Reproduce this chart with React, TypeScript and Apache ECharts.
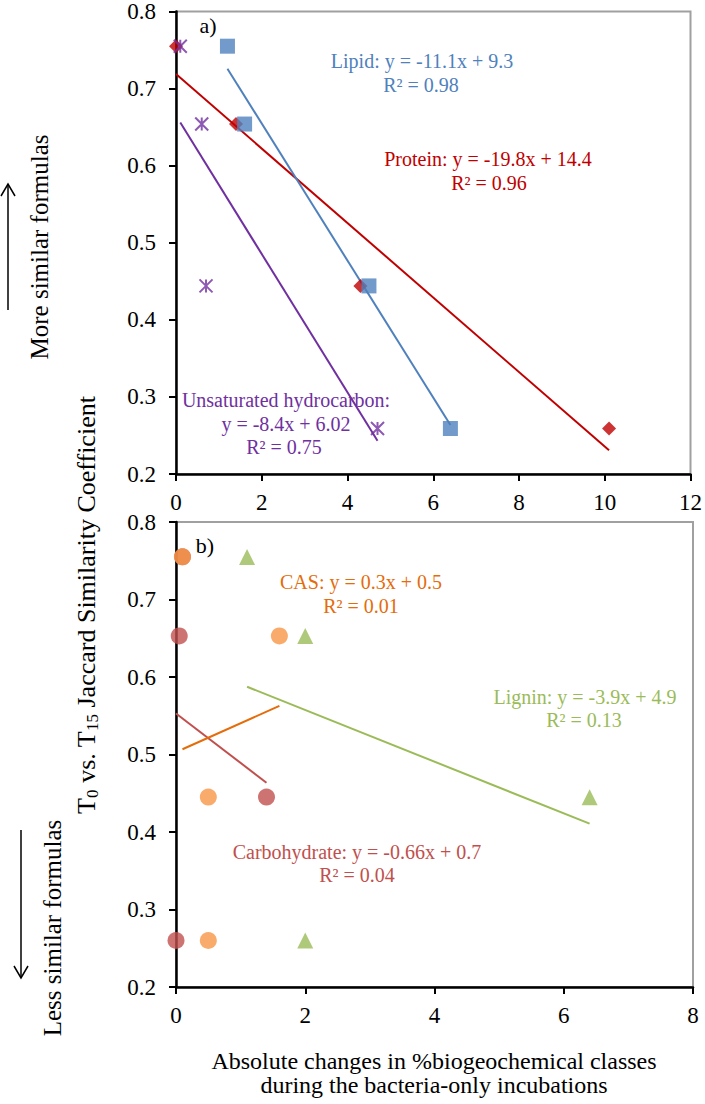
import React, { useEffect, useRef } from 'react';
import * as echarts from 'echarts';

// ---------- data ----------
const lipidX = [1.2, 1.6, 4.5, 6.4];
const lipidY = [0.755, 0.654, 0.444, 0.259];
const proteinX = [0, 1.4, 4.3, 10.1];
const proteinY = [0.755, 0.654, 0.444, 0.259];
const hydroX = [0.1, 0.6, 0.7, 4.7];
const hydroY = [0.755, 0.654, 0.444, 0.259];

const carbX = [0.1, 0.05, 1.4, 0];
const carbY = [0.755, 0.653, 0.445, 0.26];
const casX = [0.1, 1.6, 0.5, 0.5];
const casY = [0.755, 0.653, 0.445, 0.26];
const ligninX = [1.1, 2.0, 6.4, 2.0];
const ligninY = [0.755, 0.653, 0.445, 0.26];

const topXRange = [0, 12, 2];
const botXRange = [0, 8, 2];
const yRange = [0.2, 0.8, 0.1];

// ---------- helpers ----------
const FONT = 'Liberation Serif, Times New Roman, serif';

const pts = (xs: number[], ys: number[]) => xs.map((x, i) => [x, ys[i]]);

function trend(xs: number[], ys: number[]) {
  const n = xs.length;
  const mx = xs.reduce((a, b) => a + b, 0) / n;
  const my = ys.reduce((a, b) => a + b, 0) / n;
  let sxy = 0;
  let sxx = 0;
  for (let i = 0; i < n; i++) {
    sxy += (xs[i] - mx) * (ys[i] - my);
    sxx += (xs[i] - mx) * (xs[i] - mx);
  }
  const b = sxy / sxx;
  const a = my - b * mx;
  const lo = Math.min(...xs);
  const hi = Math.max(...xs);
  return [
    [lo, a + b * lo],
    [hi, a + b * hi],
  ];
}

const xAxisBase = (gridIndex: number, r: number[]) => ({
  type: 'value',
  gridIndex,
  min: r[0],
  max: r[1],
  interval: r[2],
  axisLine: { show: true, onZero: false, lineStyle: { color: '#000', width: 2.5 } },
  axisTick: { show: true, inside: false, length: 7, lineStyle: { color: '#000', width: 2 } },
  axisLabel: { fontSize: 23, fontFamily: FONT, color: '#000', margin: 17 },
  splitLine: { show: false },
});

const yAxisBase = (gridIndex: number) => ({
  type: 'value',
  gridIndex,
  min: yRange[0],
  max: yRange[1],
  interval: yRange[2],
  axisLine: { show: true, onZero: false, lineStyle: { color: '#000', width: 2.5 } },
  axisTick: { show: true, inside: false, length: 7, lineStyle: { color: '#000', width: 2 } },
  axisLabel: {
    fontSize: 23,
    fontFamily: FONT,
    color: '#000',
    margin: 20,
    formatter: (v: number) => v.toFixed(1),
  },
  splitLine: { show: false },
});

const scatter = (
  name: string,
  idx: number,
  xs: number[],
  ys: number[],
  symbol: string,
  size: number | number[],
  itemStyle: any,
  z: number
) => ({
  name,
  type: 'scatter',
  xAxisIndex: idx,
  yAxisIndex: idx,
  data: pts(xs, ys),
  symbol,
  symbolSize: size,
  itemStyle,
  z,
});

const trendLine = (name: string, idx: number, xs: number[], ys: number[], color: string) => ({
  name: name + ' trend',
  type: 'line',
  xAxisIndex: idx,
  yAxisIndex: idx,
  data: trend(xs, ys),
  symbol: 'none',
  lineStyle: { color, width: 2 },
  z: 3,
});

const label = (text: string, x: number, y: number, fill: string, size = 20) => ({
  type: 'text',
  x,
  y,
  z: 10,
  style: {
    text,
    fill,
    fontSize: size,
    fontFamily: FONT,
    align: 'center',
    verticalAlign: 'middle',
  },
});

const vtext = (text: string, x: number, y: number, size: number) => ({
  type: 'text',
  x,
  y,
  rotation: Math.PI / 2,
  z: 10,
  style: {
    text,
    fill: '#000',
    fontSize: size,
    fontFamily: FONT,
    align: 'center',
    verticalAlign: 'middle',
  },
});

const arrow = (x: number, y1: number, y2: number, up: boolean) => {
  const tip = up ? y1 : y2;
  const dir = up ? 1 : -1;
  return [
    { type: 'line', z: 10, shape: { x1: x, y1, x2: x, y2 }, style: { stroke: '#000', lineWidth: 1.5 } },
    {
      type: 'polyline',
      z: 10,
      shape: { points: [[x - 7, tip + dir * 12], [x, tip], [x + 7, tip + dir * 12]] },
      style: { stroke: '#000', lineWidth: 1.5, fill: 'none' },
    },
  ];
};

const BLUE = '#4F81BD';
const RED = '#C00000';
const PURPLE = '#7030A0';
const ORANGE = '#F79646';
const ORANGE_D = '#E46C0A';
const BRICK = '#C0504D';
const GREEN = '#9BBB59';

const asterisk = 'path://M0 0L10 10M10 0L0 10M5 0L5 10';

const option = {
  animation: false,
  backgroundColor: '#fff',
  textStyle: { fontFamily: FONT },
  grid: [
    { left: 176, top: 8, width: 517, height: 466, show: true, borderColor: '#a0a0a0', borderWidth: 2, backgroundColor: 'transparent' },
    { left: 176, top: 522, width: 517, height: 465, show: true, borderColor: '#a0a0a0', borderWidth: 2, backgroundColor: 'transparent' },
  ],
  xAxis: [xAxisBase(0, topXRange), xAxisBase(1, botXRange)],
  yAxis: [yAxisBase(0), yAxisBase(1)],
  series: [
    scatter('Protein', 0, proteinX, proteinY, 'diamond', 14, { color: RED }, 4),
    scatter('Lipid', 0, lipidX, lipidY, 'rect', 15, { color: BLUE }, 5),
    scatter('Unsaturated hydrocarbon', 0, hydroX, hydroY, asterisk, 13, { color: 'none', borderColor: PURPLE, borderWidth: 2 }, 6),
    trendLine('Protein', 0, proteinX, proteinY, RED),
    trendLine('Lipid', 0, lipidX, lipidY, BLUE),
    trendLine('Unsaturated hydrocarbon', 0, hydroX, hydroY, PURPLE),

    scatter('Carbohydrate', 1, carbX, carbY, 'circle', 17, { color: BRICK }, 4),
    scatter('CAS', 1, casX, casY, 'circle', 17, { color: ORANGE }, 5),
    scatter('Lignin', 1, ligninX, ligninY, 'triangle', 16, { color: GREEN }, 6),
    trendLine('Carbohydrate', 1, carbX, carbY, BRICK),
    trendLine('CAS', 1, casX, casY, ORANGE_D),
    trendLine('Lignin', 1, ligninX, ligninY, GREEN),
  ],
  graphic: [
    label('a)', 208, 25, '#000', 22),
    label('Lipid: y = -11.1x + 9.3', 422, 61, BLUE),
    label('R² = 0.98', 421, 85, BLUE),
    label('Protein: y = -19.8x + 14.4', 488, 159, RED),
    label('R² = 0.96', 489, 183, RED),
    label('Unsaturated hydrocarbon:', 286, 400, PURPLE),
    label('y = -8.4x + 6.02', 286, 424, PURPLE),
    label('R² = 0.75', 284, 447, PURPLE),

    label('b)', 205, 545, '#000', 22),
    label('CAS: y = 0.3x + 0.5', 361, 582, ORANGE_D),
    label('R² = 0.01', 361, 606, ORANGE_D),
    label('Lignin: y = -3.9x + 4.9', 585, 697, GREEN),
    label('R² = 0.13', 584, 720, GREEN),
    label('Carbohydrate: y = -0.66x + 0.7', 357, 852, BRICK),
    label('R² = 0.04', 357, 875, BRICK),

    label('Absolute changes in %biogeochemical classes', 434, 1061, '#000', 24),
    label('during the bacteria-only incubations', 434, 1085, '#000', 24),

    {
      type: 'text',
      x: 86,
      y: 605,
      rotation: Math.PI / 2,
      z: 10,
      style: {
        text: '{n|T}{s|0}{n| vs. T}{s|15}{n| Jaccard Similarity Coefficient}',
        align: 'center',
        verticalAlign: 'middle',
        rich: {
          n: { fontSize: 26, fontFamily: FONT, fill: '#000', lineHeight: 30, verticalAlign: 'middle' },
          s: { fontSize: 17, fontFamily: FONT, fill: '#000', lineHeight: 17, verticalAlign: 'bottom' },
        },
      },
    },
    vtext('More similar formulas', 39, 247, 25),
    vtext('Less similar formulas', 52, 928, 25),
    ...arrow(8, 184, 310, true),
    ...arrow(21, 830, 978, false),
  ],
};

export default function App() {
  const ref = useRef<HTMLDivElement>(null);
  useEffect(() => {
    const chart = echarts.init(ref.current!, null, { renderer: 'svg' });
    chart.setOption(option as any);
    return () => chart.dispose();
  }, []);
  return (
    <div
      ref={ref}
      style={{ position: 'absolute', left: 0, top: 0, width: 705, height: 1104, background: '#fff' }}
    />
  );
}
